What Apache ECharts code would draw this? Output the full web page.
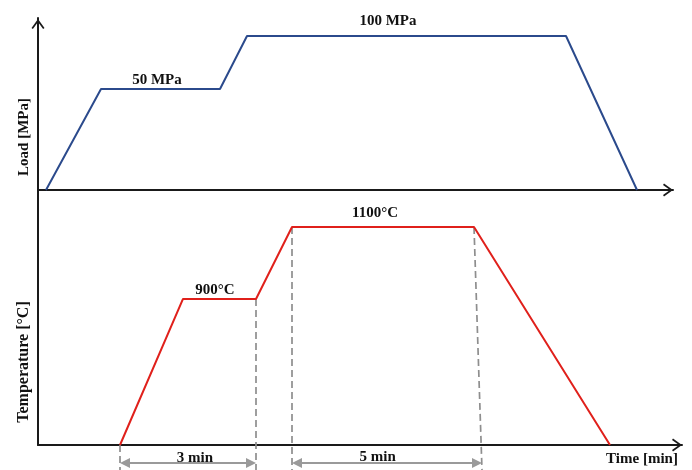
<!DOCTYPE html>
<html>
<head>
<meta charset="utf-8">
<script src="https://cdn.jsdelivr.net/npm/echarts@6/dist/echarts.min.js"></script>
<style>html,body{margin:0;padding:0;background:#fff}#c{width:692px;height:470px}</style>
</head>
<body>
<div id="c"></div>
<script>
// ---- data (time in schematic units, values in schematic plot units) ----
const loadTime  = [0.2, 1.575, 4.55, 5.225, 13.2, 14.975];
const loadValue = [0, 65.6, 65.6, 100, 100, 0];
const tempTime  = [2.05, 3.625, 5.45, 6.35, 10.9, 14.3];
const tempValue = [0, 737, 737, 1100, 1100, 0];
const loadLabels = ['50 MPa', '100 MPa'];
const tempLabels = ['900°C', '1100°C'];
const spanLabels = ['3 min', '5 min'];
const guideFrom = [[2.05, 0], [5.45, 737], [6.35, 1100], [10.9, 1100]];
const guideToX  = [2.05, 5.45, 6.35, 11.1];
const spanStart = [2.05, 6.35];
const spanEnd   = [5.45, 11.1];
const axisTitles = ['Load [MPa]', 'Temperature [°C]', 'Time [min]'];

// ---- layout helpers ----
const FONT = 'bold 15px "Liberation Serif", "Times New Roman", serif';
const GUIDE_BOTTOM = -126, SPAN_Y = -91;
const loadLabelPos = [[2.975, 71.4], [8.75, 109.7]];
const tempLabelPos = [[4.425, 782], [8.425, 1168]];
const spanLabelPos = [[3.925, -66], [8.49, -61]];

const chev = 'path://M6.5,0 L13,9 L11.6,10 L6.5,3 L1.4,10 L0,9 Z';
const axisLineBase = {lineStyle: {color: '#1a1a1a', width: 2}};

function textItem(api, pos, txt) {
  const p = api.coord(pos);
  return {type: 'text', style: {text: txt, x: p[0], y: p[1], align: 'center', verticalAlign: 'middle', font: FONT, fill: '#111'}};
}

const chart = echarts.init(document.getElementById('c'), null, {renderer: 'canvas'});
chart.setOption({
  animation: false,
  backgroundColor: '#fff',
  grid: [
    {left: 38, top: 18, width: 635, height: 172},
    {left: 38, top: 190, width: 644, height: 255}
  ],
  xAxis: [
    {type: 'value', gridIndex: 0, min: 0, max: 15.875,
     axisLine: Object.assign({symbol: ['none', chev], symbolSize: [13, 10], symbolOffset: [0, -5]}, axisLineBase),
     axisTick: {show: false}, axisLabel: {show: false}, splitLine: {show: false}},
    {type: 'value', gridIndex: 1, min: 0, max: 16.1,
     axisLine: Object.assign({symbol: ['none', chev], symbolSize: [13, 10], symbolOffset: [0, -5]}, axisLineBase),
     axisTick: {show: false}, axisLabel: {show: false}, splitLine: {show: false}}
  ],
  yAxis: [
    {type: 'value', gridIndex: 0, min: 0, max: 111.7,
     axisLine: Object.assign({show: true, symbol: ['none', chev], symbolSize: [13, 12], symbolOffset: [0, -6]}, axisLineBase),
     axisTick: {show: false}, axisLabel: {show: false}, splitLine: {show: false}},
    {type: 'value', gridIndex: 1, min: 0, max: 1286.7,
     axisLine: Object.assign({show: true}, axisLineBase),
     axisTick: {show: false}, axisLabel: {show: false}, splitLine: {show: false}}
  ],
  graphic: [
    {type: 'text', x: 24, y: 137, rotation: Math.PI / 2,
     style: {text: axisTitles[0], align: 'center', verticalAlign: 'middle', font: FONT, fill: '#111'}},
    {type: 'text', x: 24, y: 362, rotation: Math.PI / 2,
     style: {text: axisTitles[1], align: 'center', verticalAlign: 'middle', font: 'bold 16px "Liberation Serif", serif', fill: '#111'}},
    {type: 'text', x: 642, y: 459,
     style: {text: axisTitles[2], align: 'center', verticalAlign: 'middle', font: FONT, fill: '#111'}}
  ],
  series: [
    {type: 'line', xAxisIndex: 0, yAxisIndex: 0, symbol: 'none', z: 5,
     lineStyle: {color: '#2B4A8C', width: 2}, data: loadTime.map((t, i) => [t, loadValue[i]])},
    {type: 'line', xAxisIndex: 1, yAxisIndex: 1, symbol: 'none', z: 5,
     lineStyle: {color: '#E0201B', width: 2}, data: tempTime.map((t, i) => [t, tempValue[i]])},
    {type: 'custom', xAxisIndex: 1, yAxisIndex: 1, z: 3, clip: false,
     data: guideFrom.map((g, i) => [g[0], g[1], guideToX[i], GUIDE_BOTTOM]),
     renderItem: (params, api) => {
       const a = api.coord([api.value(0), api.value(1)]);
       const b = api.coord([api.value(2), api.value(3)]);
       return {type: 'line', shape: {x1: a[0], y1: a[1], x2: b[0], y2: b[1]},
               style: {stroke: '#8e8e8e', lineWidth: 1.7, lineDash: [7, 4]}};
     }},
    {type: 'custom', xAxisIndex: 1, yAxisIndex: 1, z: 4, clip: false,
     data: spanStart.map((s, i) => [s, spanEnd[i], i]),
     renderItem: (params, api) => {
       const i = api.value(2);
       const a = api.coord([api.value(0), SPAN_Y]);
       const b = api.coord([api.value(1), SPAN_Y]);
       const L = 10, H = 5, col = '#9a9a9a';
       return {type: 'group', children: [
         {type: 'line', shape: {x1: a[0] + L, y1: a[1], x2: b[0] - L, y2: b[1]}, style: {stroke: col, lineWidth: 2}},
         {type: 'polygon', shape: {points: [[a[0], a[1]], [a[0] + L, a[1] - H], [a[0] + L, a[1] + H]]}, style: {fill: col}},
         {type: 'polygon', shape: {points: [[b[0], b[1]], [b[0] - L, b[1] - H], [b[0] - L, b[1] + H]]}, style: {fill: col}},
         textItem(api, spanLabelPos[i], spanLabels[i])
       ]};
     }},
    {type: 'custom', xAxisIndex: 0, yAxisIndex: 0, z: 6, clip: false,
     data: loadLabels.map((l, i) => [i]),
     renderItem: (params, api) => textItem(api, loadLabelPos[api.value(0)], loadLabels[api.value(0)])},
    {type: 'custom', xAxisIndex: 1, yAxisIndex: 1, z: 6, clip: false,
     data: tempLabels.map((l, i) => [i]),
     renderItem: (params, api) => textItem(api, tempLabelPos[api.value(0)], tempLabels[api.value(0)])}
  ]
});
</script>
</body>
</html>
